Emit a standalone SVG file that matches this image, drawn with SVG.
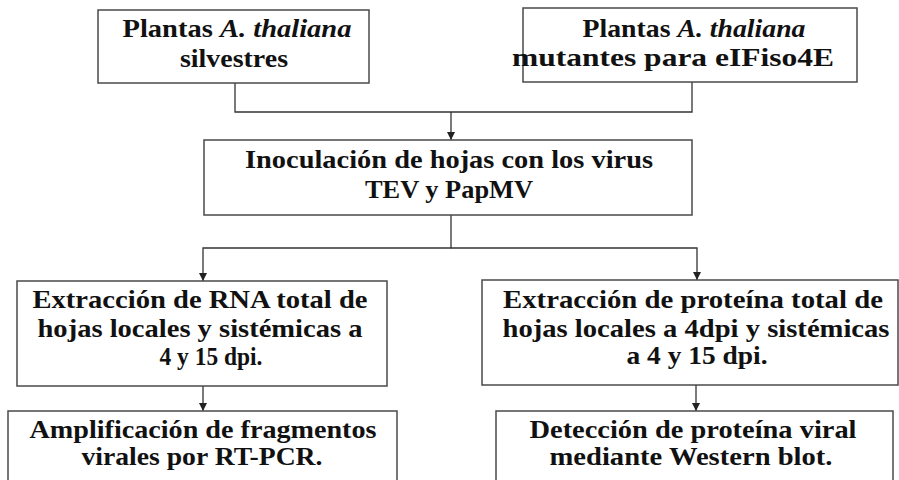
<svg xmlns="http://www.w3.org/2000/svg" width="899" height="480" viewBox="0 0 899 480">
<defs>
<style>
.box{fill:#fff;stroke:#4a4a4a;stroke-width:1.5}
.t{font-family:"Liberation Serif","Times New Roman",serif;font-weight:bold;font-size:25px;fill:#111;text-anchor:middle}
.i{font-style:italic}
.c{fill:none;stroke:#333;stroke-width:1.3}
</style>
<marker id="ah" viewBox="0 0 10 10" refX="10" refY="5" markerWidth="8" markerHeight="8" markerUnits="userSpaceOnUse" orient="auto">
<path d="M0,0 L10,5 L0,10 z" fill="#222"/>
</marker>
</defs>
<rect width="899" height="480" fill="#fff"/>
<g id="connectors">
<polyline class="c" points="235,83 235,112 692,112 692,82"/>
<line class="c" x1="451" y1="112" x2="451" y2="140" marker-end="url(#ah)"/>
<polyline class="c" points="451,215 451,248 203,248 203,281" marker-end="url(#ah)"/>
<polyline class="c" points="451,248 697,248 697,280" marker-end="url(#ah)"/>
<line class="c" x1="203" y1="386" x2="203" y2="411" marker-end="url(#ah)"/>
<line class="c" x1="696" y1="385" x2="696" y2="411" marker-end="url(#ah)"/>
</g>
<g id="n1">
<rect class="box" x="98" y="10" width="271" height="73"/>
<text class="t" x="237" y="37" textLength="229" lengthAdjust="spacingAndGlyphs">Plantas <tspan class="i">A. thaliana</tspan></text>
<text class="t" x="234" y="67" textLength="108" lengthAdjust="spacingAndGlyphs">silvestres</text>
</g>
<g id="n2">
<rect class="box" x="523" y="8" width="334" height="74"/>
<text class="t" x="694" y="37" textLength="223" lengthAdjust="spacingAndGlyphs">Plantas <tspan class="i">A. thaliana</tspan></text>
<text class="t" x="673" y="66" textLength="322" lengthAdjust="spacingAndGlyphs">mutantes para eIFiso4E</text>
</g>
<g id="n3">
<rect class="box" x="204" y="140" width="488" height="75"/>
<text class="t" x="449" y="168" textLength="408" lengthAdjust="spacingAndGlyphs">Inoculación de hojas con los virus</text>
<text class="t" x="449" y="198" textLength="168" lengthAdjust="spacingAndGlyphs">TEV y PapMV</text>
</g>
<g id="n4">
<rect class="box" x="17" y="281" width="370" height="105"/>
<text class="t" x="200" y="308" textLength="335" lengthAdjust="spacingAndGlyphs">Extracción de RNA total de</text>
<text class="t" x="200" y="337" textLength="325" lengthAdjust="spacingAndGlyphs">hojas locales y sistémicas a</text>
<text class="t" x="211" y="365" textLength="103" lengthAdjust="spacingAndGlyphs">4 y 15 dpi.</text>
</g>
<g id="n5">
<rect class="box" x="8" y="411" width="389" height="80"/>
<text class="t" x="203" y="438" textLength="347" lengthAdjust="spacingAndGlyphs">Amplificación de fragmentos</text>
<text class="t" x="202" y="465" textLength="241" lengthAdjust="spacingAndGlyphs">virales por RT-PCR.</text>
</g>
<g id="n6">
<rect class="box" x="482" y="280" width="416" height="105"/>
<text class="t" x="693" y="308" textLength="380" lengthAdjust="spacingAndGlyphs">Extracción de proteína total de</text>
<text class="t" x="696" y="337" textLength="387" lengthAdjust="spacingAndGlyphs">hojas locales a 4dpi y sistémicas</text>
<text class="t" x="697" y="364" textLength="141" lengthAdjust="spacingAndGlyphs">a 4 y 15 dpi.</text>
</g>
<g id="n7">
<rect class="box" x="496" y="411" width="397" height="80"/>
<text class="t" x="693" y="438" textLength="327" lengthAdjust="spacingAndGlyphs">Detección de proteína viral</text>
<text class="t" x="691" y="465" textLength="283" lengthAdjust="spacingAndGlyphs">mediante Western blot.</text>
</g>
</svg>
